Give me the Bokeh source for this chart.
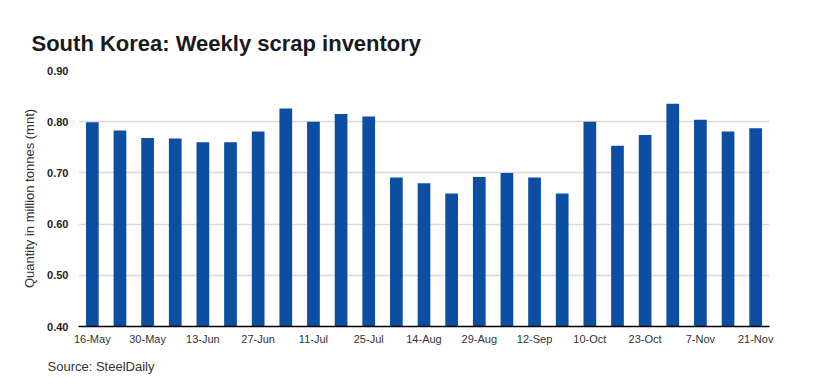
from bokeh.plotting import figure
from bokeh.models import FixedTicker, NumeralTickFormatter, Range1d, Title, ColumnDataSource
from bokeh.embed import file_html
from bokeh.resources import INLINE

title_text = "South Korea: Weekly scrap inventory"
source_text = "Source: SteelDaily"
y_label = "Quantity in million tonnes (mnt)"

# every other week is labelled on the axis
tick_labels = ["16-May", "30-May", "13-Jun", "27-Jun", "11-Jul", "25-Jul", "14-Aug",
               "29-Aug", "12-Sep", "10-Oct", "23-Oct", "7-Nov", "21-Nov"]
inventory = [0.799, 0.783, 0.768, 0.767, 0.760, 0.760, 0.781, 0.826, 0.800, 0.815,
             0.810, 0.691, 0.680, 0.660, 0.692, 0.700, 0.691, 0.660, 0.800, 0.753,
             0.774, 0.835, 0.804, 0.781, 0.787]
week_index = list(range(len(inventory)))

BAR = "#0b4ea2"
FONT = "Liberation Sans"

src = ColumnDataSource(dict(x=week_index, top=inventory))

p = figure(width=827, height=389, output_backend="svg", toolbar_location=None,
           x_range=Range1d(-0.5, len(inventory) - 0.5), y_range=Range1d(0.4, 0.9),
           min_border_left=78, min_border_right=58, min_border_top=70, min_border_bottom=63)
p.outline_line_color = None
p.background_fill_color = "white"
p.border_fill_color = "white"

p.vbar(x="x", top="top", bottom=0.4, width=0.46, source=src, color=BAR, line_color=None)

p.title.text = title_text
p.title.text_font = FONT
p.title.text_font_size = "22px"
p.title.text_font_style = "bold"
p.title.text_color = "#1a1a1a"
p.title.align = "left"
p.title.offset = -47
p.title.standoff = 30

# x axis
p.xaxis.ticker = FixedTicker(ticks=week_index[::2])
p.xaxis.major_label_overrides = {i: lab for i, lab in zip(week_index[::2], tick_labels)}
p.xaxis.major_tick_line_color = None
p.xaxis.minor_tick_line_color = None
p.xaxis.axis_line_color = "black"
p.xaxis.axis_line_width = 1.5
p.xaxis.major_label_text_font = FONT
p.xaxis.major_label_text_font_size = "11px"
p.xaxis.major_label_text_color = "#333333"
p.xaxis.major_label_standoff = 0

# y axis
p.yaxis.ticker = FixedTicker(ticks=[0.4, 0.5, 0.6, 0.7, 0.8, 0.9])
p.yaxis.formatter = NumeralTickFormatter(format="0.00")
p.yaxis.axis_line_color = None
p.yaxis.major_tick_line_color = None
p.yaxis.minor_tick_line_color = None
p.yaxis.major_label_text_font = FONT
p.yaxis.major_label_text_font_size = "11px"
p.yaxis.major_label_text_font_style = "bold"
p.yaxis.major_label_text_color = "#222222"
p.yaxis.major_label_standoff = 4
p.yaxis.axis_label = y_label
p.yaxis.axis_label_text_font = FONT
p.yaxis.axis_label_text_font_size = "13px"
p.yaxis.axis_label_text_font_style = "normal"
p.yaxis.axis_label_text_color = "#333333"
p.yaxis.axis_label_standoff = 7

p.xgrid.grid_line_color = None
p.ygrid.grid_line_color = "#d9d9d9"
p.ygrid.grid_line_width = 1.5

src_title = Title(text=source_text, align="left", offset=-31, text_font=FONT,
                  text_font_size="13px", text_font_style="normal", text_color="#333333",
                  standoff=19)
p.add_layout(src_title, "below")

open("out.html", "w").write(file_html(p, INLINE))
